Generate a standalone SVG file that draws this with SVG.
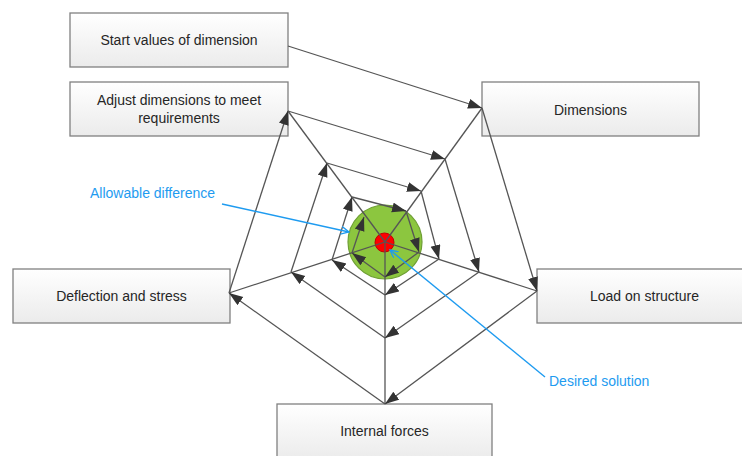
<svg xmlns="http://www.w3.org/2000/svg" width="742" height="456" viewBox="0 0 742 456">
<defs>
<linearGradient id="boxg" x1="0" y1="0" x2="0" y2="1">
<stop offset="0" stop-color="#ffffff"/>
<stop offset="1" stop-color="#ebebeb"/>
</linearGradient>
<marker id="ah" markerWidth="15" markerHeight="11" refX="14" refY="5" orient="auto" markerUnits="userSpaceOnUse">
<path d="M0,0 L14,5 L0,10 z" fill="#333333"/>
</marker>
<marker id="bh" markerWidth="10" markerHeight="10" refX="8" refY="4" orient="auto" markerUnits="userSpaceOnUse">
<path d="M0,0 L8,4 L0,8" fill="none" stroke="#1e9bf0" stroke-width="1.3"/>
</marker>
<style>
.box{fill:url(#boxg);stroke:#808080;stroke-width:1.3}
.lbl{font-family:"Liberation Sans",Arial,sans-serif;font-size:14px;fill:#262626;text-anchor:middle}
.blue{font-family:"Liberation Sans",Arial,sans-serif;font-size:14px;fill:#1e9bf0}
.ln{stroke:#555555;stroke-width:1.3;fill:none}
.ar{stroke:#555555;stroke-width:1.3;fill:none;marker-end:url(#ah)}
.bl{stroke:#1e9bf0;stroke-width:1.4;fill:none;marker-end:url(#bh)}
</style>
</defs>

<g id="start"><rect class="box" x="70" y="13" width="218" height="54"/><text class="lbl" x="179" y="45">Start values of dimension</text></g>
<g id="adjust"><rect class="box" x="70" y="82" width="218" height="54"/><text class="lbl" x="179" y="105">Adjust dimensions to meet</text><text class="lbl" x="179" y="123">requirements</text></g>
<g id="dimensions"><rect class="box" x="482" y="82" width="217" height="54"/><text class="lbl" x="590.5" y="115">Dimensions</text></g>
<g id="deflection"><rect class="box" x="13" y="269" width="217" height="54"/><text class="lbl" x="121.5" y="301">Deflection and stress</text></g>
<g id="load"><rect class="box" x="537" y="269" width="215" height="54"/><text class="lbl" x="644.5" y="301">Load on structure</text></g>
<g id="internal"><rect class="box" x="277" y="404" width="215" height="56"/><text class="lbl" x="384.5" y="436">Internal forces</text></g>

<g id="target">
<circle cx="385" cy="242" r="37" fill="#8cc63f" stroke="#6f9f35" stroke-width="1.2"/>
<circle cx="384.5" cy="242.5" r="9.5" fill="#ff0000" stroke="#c00000" stroke-width="1"/>
</g>

<g id="connectors">
<path class="ln" d="M482,108 L385,242"/>
<path class="ln" d="M537,291 L385,242"/>
<path class="ln" d="M385,404 L385,242"/>
<path class="ln" d="M229,293 L385,242"/>
<path class="ln" d="M288,111 L385,242"/>
<path class="ar" d="M288,46 L482,108"/>
<path class="ar" d="M482,108 L537,291"/>
<path class="ar" d="M537,291 L385,404"/>
<path class="ar" d="M385,404 L229,293"/>
<path class="ar" d="M229,293 L288,111"/>
<path class="ar" d="M288,111 L445,159"/>
<path class="ar" d="M445,159 L479,272"/>
<path class="ar" d="M479,272 L385,338"/>
<path class="ar" d="M385,338 L291,272"/>
<path class="ar" d="M291,272 L327,163"/>
<path class="ar" d="M327,163 L421,191"/>
<path class="ar" d="M421,191 L439,259"/>
<path class="ar" d="M439,259 L385,295"/>
<path class="ar" d="M385,295 L332,260"/>
<path class="ar" d="M332,260 L352,197"/>
<path class="ar" d="M352,197 L406,211"/>
<path class="ar" d="M406,211 L419,252"/>
<path class="ar" d="M419,252 L385,277"/>
<path class="ar" d="M385,277 L352,253"/>
<path class="ar" d="M352,253 L364,217"/>
<path class="bl" d="M222,204 L349,232"/>
<path class="bl" d="M545,377 L390,250"/>
</g>

<g id="callout-labels">
<text class="blue" x="90" y="198">Allowable difference</text>
<text class="blue" x="549" y="386">Desired solution</text>
</g>
</svg>
